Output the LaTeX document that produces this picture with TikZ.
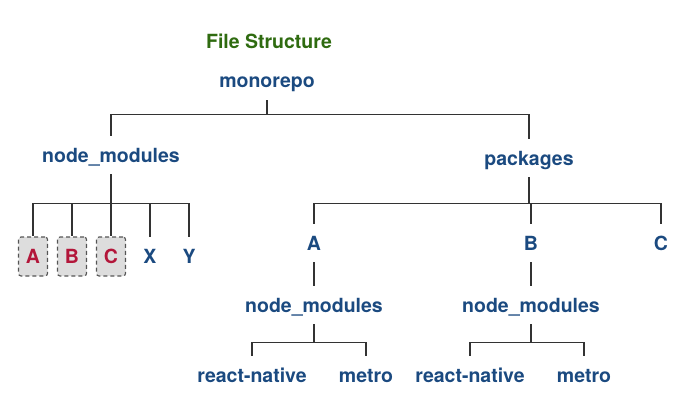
\documentclass[tikz,border=0pt]{standalone}
\usepackage{fontspec}
\setmainfont{TeX Gyre Heros}
\usepackage{tikz}
\usetikzlibrary{positioning}
\definecolor{FSNavy}{HTML}{1B4A80}
\definecolor{FSGreen}{HTML}{2F6B10}
\definecolor{FSRed}{HTML}{B3163A}
\definecolor{FSLine}{HTML}{333333}
\definecolor{FSBoxFill}{HTML}{DDDDDD}
\definecolor{FSBoxDraw}{HTML}{555555}
\tikzset{
  fsTitle/.style={
    font=\fontsize{19.5}{22}\selectfont\bfseries, text=FSGreen, inner sep=0pt
  },
  fsItem/.style={
    rectangle, font=\fontsize{19.5}{22}\selectfont\bfseries, text=#1,
    inner sep=0pt, text height=14pt, text depth=0pt, minimum height=38pt
  },
  fsItem/.default=FSNavy,
  fsLeaf/.style={
    fsItem=#1, minimum height=39pt
  },
  fsLeaf/.default=FSNavy,
  fsHoisted/.style={
    fsLeaf=FSRed, draw=FSBoxDraw, fill=FSBoxFill, rounded corners=2.5pt,
    dash pattern=on 4pt off 3pt, line width=1.1pt, minimum width=29pt
  },
  fsLine/.style={draw=FSLine, line width=1.2pt}
}
\begin{document}
\begin{tikzpicture}[x=1pt, y=-1pt]
  \useasboundingbox (0,0) rectangle (684,401);

  \node[fsTitle] (title) at (269,41) {File Structure};
  \node[fsItem] (monorepo) at (267,81) {monorepo};

  % hoisted node_modules
  \node[fsItem] (rootModules) at (111,155) {node\_modules};
  \node[fsHoisted] (hoistA) at (33,256.5) {A};
  \node[fsHoisted] (hoistB) at (72,256.5) {B};
  \node[fsHoisted] (hoistC) at (111,256.5) {C};
  \node[fsLeaf] (hoistX) at (150,256.5) {X};
  \node[fsLeaf] (hoistY) at (189,256.5) {Y};

  % workspace packages
  \node[fsItem] (packages) at (529,158) {packages};
  \node[fsItem] (pkgA) at (314,243) {A};
  \node[fsItem] (pkgB) at (531,243) {B};
  \node[fsItem] (pkgC) at (661,243) {C};
  \node[fsItem] (modulesA) at (314,305) {node\_modules};
  \node[fsItem] (modulesB) at (531,305) {node\_modules};
  \node[fsItem] (reactA) at (252,375) {react-native};
  \node[fsItem] (metroA) at (366,375) {metro};
  \node[fsItem] (reactB) at (470,375) {react-native};
  \node[fsItem] (metroB) at (584,375) {metro};

  \draw[fsLine] (monorepo.south) -- ++(0,14) coordinate (rootBar);
  \draw[fsLine] (rootModules.north) |- (rootBar) -| (packages.north);

  \draw[fsLine] (rootModules.south) -- ++(0,29) coordinate (hoistBar);
  \foreach \leaf in {hoistA,hoistB,hoistC,hoistX,hoistY}
    \draw[fsLine] (hoistBar) -| (\leaf.north);

  \draw[fsLine] (packages.south) -- ++(0,26) coordinate (pkgBar);
  \foreach \pkg in {pkgA,pkgB,pkgC}
    \draw[fsLine] (pkgBar) -| (\pkg.north);

  \draw[fsLine] (pkgA.south) -- (modulesA.north);
  \draw[fsLine] (pkgB.south) -- (modulesB.north);
  \draw[fsLine] (modulesA.south) -- ++(0,18) coordinate (barA);
  \draw[fsLine] (barA) -| (reactA.north);
  \draw[fsLine] (barA) -| (metroA.north);
  \draw[fsLine] (modulesB.south) -- ++(0,18) coordinate (barB);
  \draw[fsLine] (barB) -| (reactB.north);
  \draw[fsLine] (barB) -| (metroB.north);
\end{tikzpicture}
\end{document}
